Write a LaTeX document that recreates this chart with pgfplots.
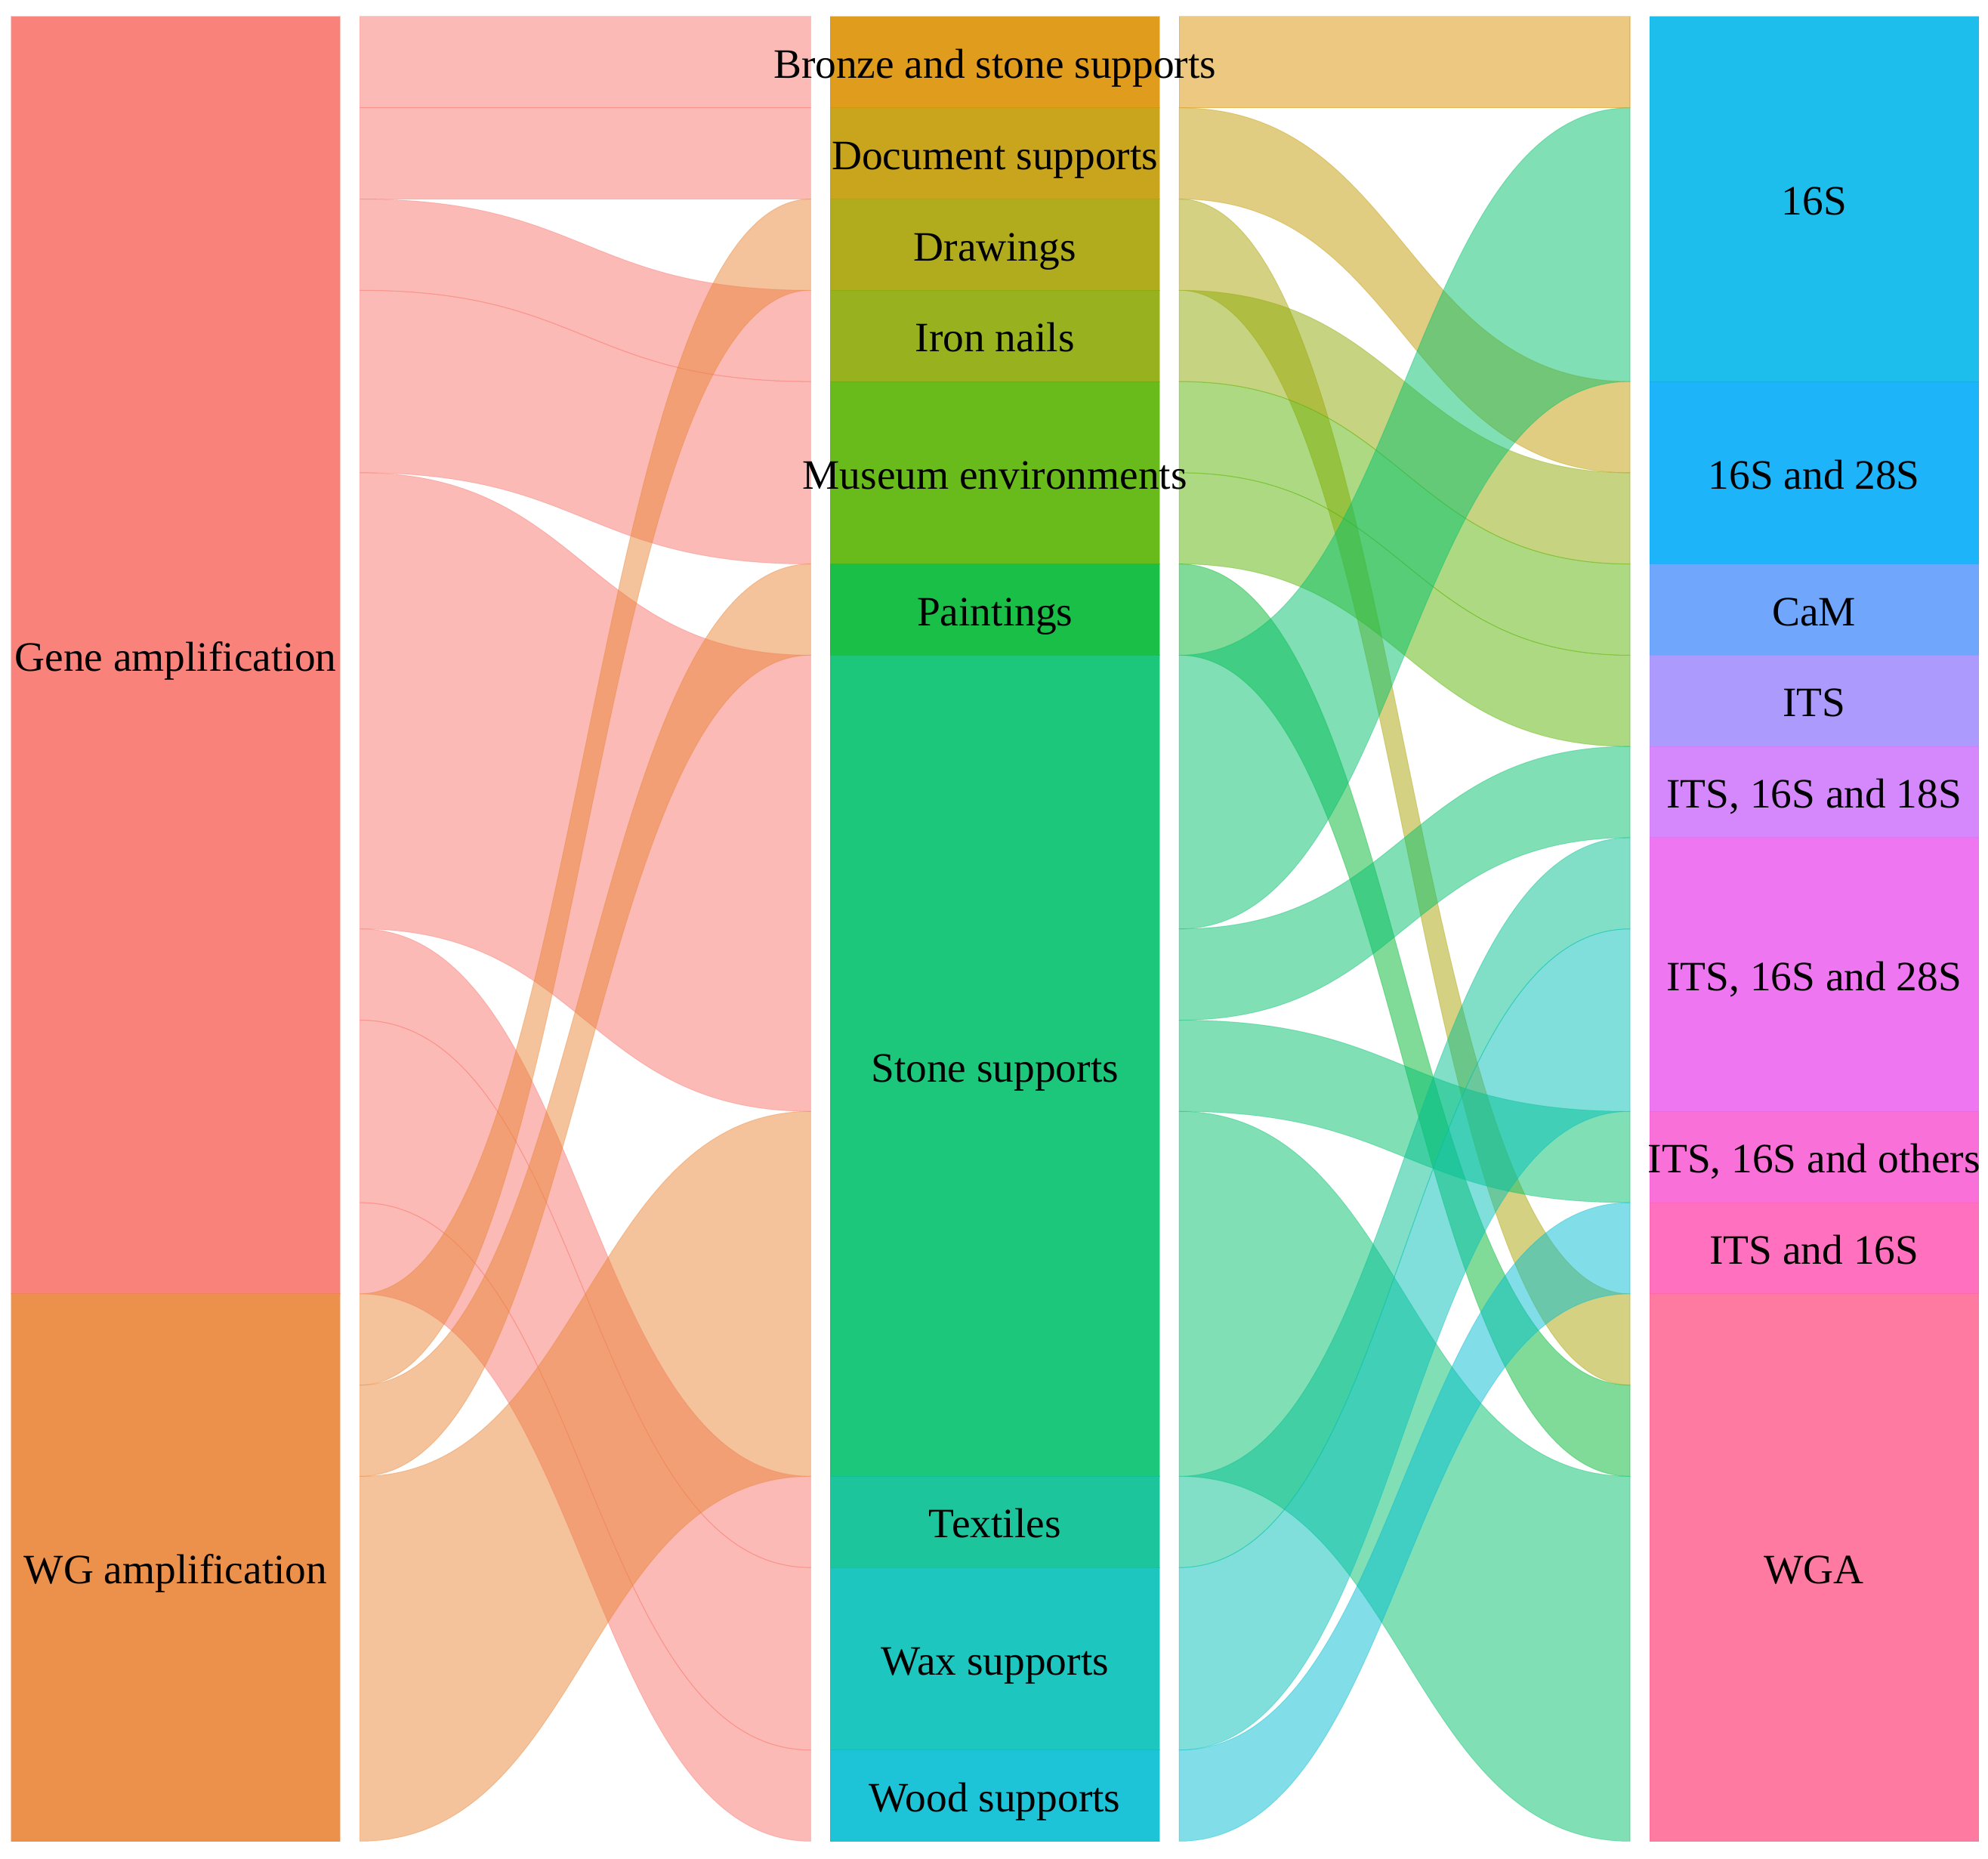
\documentclass[border=0pt]{standalone}
\usepackage{pgfplots}
\pgfplotsset{compat=1.18}
\usepackage{fontspec}
\setmainfont{Liberation Serif}

% base hues (nodes drawn at 0.9 opacity, ribbons at 0.5)
\definecolor{cGene}{HTML}{F8766D}
\definecolor{cWG}{HTML}{E98537}
\definecolor{cBronze}{HTML}{DB9104}
\definecolor{cDoc}{HTML}{C39B04}
\definecolor{cDraw}{HTML}{A9A305}
\definecolor{cIron}{HTML}{8DA905}
\definecolor{cMus}{HTML}{59B403}
\definecolor{cPaint}{HTML}{01B834}
\definecolor{cStone}{HTML}{03C06D}
\definecolor{cText}{HTML}{04BF91}
\definecolor{cWax}{HTML}{04C0B8}
\definecolor{cWood}{HTML}{04BDD1}
\definecolor{tA}{HTML}{05B7EA}
\definecolor{tB}{HTML}{06ACF9}
\definecolor{tC}{HTML}{609DFD}
\definecolor{tD}{HTML}{A38FFC}
\definecolor{tE}{HTML}{D07AFC}
\definecolor{tF}{HTML}{EC67EE}
\definecolor{tG}{HTML}{F860D5}
\definecolor{tH}{HTML}{FF60B8}
\definecolor{tI}{HTML}{FF6B96}

% x columns (px): stage boxes and ribbon ends
\def\xAa{8.8}\def\xAb{268.3}
\def\xBa{655.0}\def\xBb{914.5}
\def\xCa{1301.1}\def\xCb{1560.6}

% node: x0 x1 y0 y1 colour label
\newcommand{\blk}[6]{%
  \addplot[fill=#5, fill opacity=0.9, draw=#5, draw opacity=0.4, line width=0.3pt]
    coordinates {(#1,#3) (#2,#3) (#2,#4) (#1,#4)} -- cycle;
  \node[text=black, inner sep=0pt, anchor=base, yshift=-6.3pt,
        font=\fontsize{16.5}{19}\selectfont]
    at (axis cs:{(#1+#2)/2},{(#3+#4)/2}) {#6};
}
% ribbon: xa xb ya yb width colour
\newcommand{\flow}[6]{%
  \fill[#6, fill opacity=0.5, draw=#6, draw opacity=0.35, line width=0.3pt]
    (axis cs:#1,#3) .. controls (axis cs:{(#1+#2)/2},#3) and (axis cs:{(#1+#2)/2},#4)
    .. (axis cs:#2,#4) -- (axis cs:#2,{#4+#5})
    .. controls (axis cs:{(#1+#2)/2},{#4+#5}) and (axis cs:{(#1+#2)/2},{#3+#5})
    .. (axis cs:#1,{#3+#5}) -- cycle;
}
\newcommand{\flowL}[4]{\flow{283.8}{639.5}{#1}{#2}{#3}{#4}}
\newcommand{\flowR}[4]{\flow{930.0}{1285.6}{#1}{#2}{#3}{#4}}

\begin{document}
\begin{tikzpicture}
\useasboundingbox (0,0) rectangle (784pt,733pt);
\begin{axis}[
    at={(0,0)}, anchor=south west,
    width=784pt, height=733pt, scale only axis,
    xmin=0, xmax=1568, ymin=-0.182, ymax=20.193,
    y dir=reverse, hide axis, clip=false,
  ]
% ---- method -> support (units of 1 sample) ----
\flowL{0}{0}{1}{cGene}
\flowL{1}{1}{1}{cGene}
\flowL{2}{3}{1}{cGene}
\flowL{3}{4}{2}{cGene}
\flowL{5}{7}{5}{cGene}
\flowL{10}{16}{1}{cGene}
\flowL{11}{17}{2}{cGene}
\flowL{13}{19}{1}{cGene}
\flowL{14}{2}{1}{cWG}
\flowL{15}{6}{1}{cWG}
\flowL{16}{12}{4}{cWG}
% ---- support -> target ----
\flowR{0}{0}{1}{cBronze}
\flowR{1}{4}{1}{cDoc}
\flowR{2}{14}{1}{cDraw}
\flowR{3}{5}{1}{cIron}
\flowR{4}{6}{1}{cMus}
\flowR{5}{7}{1}{cMus}
\flowR{6}{15}{1}{cPaint}
\flowR{7}{1}{3}{cStone}
\flowR{10}{8}{1}{cStone}
\flowR{11}{12}{1}{cStone}
\flowR{12}{16}{4}{cStone}
\flowR{16}{9}{1}{cText}
\flowR{17}{10}{2}{cWax}
\flowR{19}{13}{1}{cWood}
% ---- nodes ----
\blk{\xAa}{\xAb}{0}{14}{cGene}{Gene amplification}
\blk{\xAa}{\xAb}{14}{20}{cWG}{WG amplification}
\blk{\xBa}{\xBb}{0}{1}{cBronze}{Bronze and stone supports}
\blk{\xBa}{\xBb}{1}{2}{cDoc}{Document supports}
\blk{\xBa}{\xBb}{2}{3}{cDraw}{Drawings}
\blk{\xBa}{\xBb}{3}{4}{cIron}{Iron nails}
\blk{\xBa}{\xBb}{4}{6}{cMus}{Museum environments}
\blk{\xBa}{\xBb}{6}{7}{cPaint}{Paintings}
\blk{\xBa}{\xBb}{7}{16}{cStone}{Stone supports}
\blk{\xBa}{\xBb}{16}{17}{cText}{Textiles}
\blk{\xBa}{\xBb}{17}{19}{cWax}{Wax supports}
\blk{\xBa}{\xBb}{19}{20}{cWood}{Wood supports}
\blk{\xCa}{\xCb}{0}{4}{tA}{16S}
\blk{\xCa}{\xCb}{4}{6}{tB}{16S and 28S}
\blk{\xCa}{\xCb}{6}{7}{tC}{CaM}
\blk{\xCa}{\xCb}{7}{8}{tD}{ITS}
\blk{\xCa}{\xCb}{8}{9}{tE}{ITS, 16S and 18S}
\blk{\xCa}{\xCb}{9}{12}{tF}{ITS, 16S and 28S}
\blk{\xCa}{\xCb}{12}{13}{tG}{ITS, 16S and others}
\blk{\xCa}{\xCb}{13}{14}{tH}{ITS and 16S}
\blk{\xCa}{\xCb}{14}{20}{tI}{WGA}
\end{axis}
\end{tikzpicture}
\end{document}
